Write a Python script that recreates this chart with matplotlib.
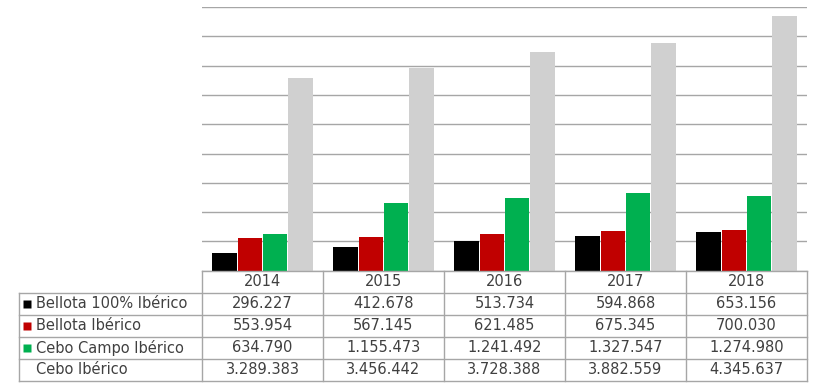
import matplotlib.pyplot as plt
from matplotlib.lines import Line2D
import numpy as np

years = ["2014", "2015", "2016", "2017", "2018"]
series = ["Bellota 100% Ibérico", "Bellota Ibérico", "Cebo Campo Ibérico", "Cebo Ibérico"]
bellota100 = [296227, 412678, 513734, 594868, 653156]
bellota = [553954, 567145, 621485, 675345, 700030]
cebo_campo = [634790, 1155473, 1241492, 1327547, 1274980]
cebo = [3289383, 3456442, 3728388, 3882559, 4345637]
colors = ["#000000", "#c00000", "#00b050", "#d0d0d0"]

values = [bellota100, bellota, cebo_campo, cebo]

def fmt(v):
    return f"{v:,}".replace(",", ".")

W, H = 820, 388
fig = plt.figure(figsize=(W / 100, H / 100), dpi=100)
plt.rcParams['font.family'] = ['DejaVu Sans']

# bar area (pixel box -> figure fraction)
left, right, top, bottom = 202, 807, 7, 270.7
ax = fig.add_axes([left / W, 1 - bottom / H, (right - left) / W, (bottom - top) / H])

x = np.arange(len(years))
bw = 0.205
for i, (vals, c) in enumerate(zip(values, colors)):
    ax.bar(x + (i - 1.5) * (bw + 0.003), vals, bw, color=c, zorder=3)

ax.set_xlim(-0.5, len(years) - 0.5)
ax.set_ylim(0, 4500000)
ax.set_yticks(np.arange(0, 4500001, 500000))
ax.grid(axis="y", color="#a6a6a6", linewidth=1.0, zorder=0)
ax.set_axisbelow(True)
ax.tick_params(left=False, bottom=False, labelleft=False, labelbottom=False)
for s in ax.spines.values():
    s.set_visible(False)

# data table under the bars
tax = fig.add_axes([0, 0, 1, 1])
tax.set_xlim(0, W)
tax.set_ylim(H, 0)
tax.axis("off")

line_c = "#a6a6a6"
txt_c = "#404040"
fs = 10.5
col_w = (right - left) / len(years)
row_y = [270.7, 292.5, 314.5, 336.5, 358.5, 380.5]
label_left = 19

def hline(x0, x1, y):
    tax.add_line(Line2D([x0, x1], [y, y], color=line_c, lw=1.0))

def vline(x0, y0, y1):
    tax.add_line(Line2D([x0, x0], [y0, y1], color=line_c, lw=1.0))

hline(left, right, row_y[0])
for y in row_y[1:]:
    hline(label_left, right, y)
vline(label_left, row_y[1], row_y[-1])
for j in range(len(years) + 1):
    vline(left + j * col_w, row_y[0], row_y[-1])

for j, yr in enumerate(years):
    cx = left + (j + 0.5) * col_w
    tax.text(cx, (row_y[0] + row_y[1]) / 2, yr, ha="center", va="center",
             fontsize=fs, color=txt_c)
    for i, vals in enumerate(values):
        tax.text(cx, (row_y[i + 1] + row_y[i + 2]) / 2, fmt(vals[j]),
                 ha="center", va="center", fontsize=fs, color=txt_c)

for i, name in enumerate(series):
    cy = (row_y[i + 1] + row_y[i + 2]) / 2
    if i < 3:
        tax.plot(27, cy, marker="s", ms=6, color=colors[i], mec="none")
    tax.text(36, cy, name, ha="left", va="center", fontsize=fs, color=txt_c)

fig.savefig("out.png", dpi=100)
